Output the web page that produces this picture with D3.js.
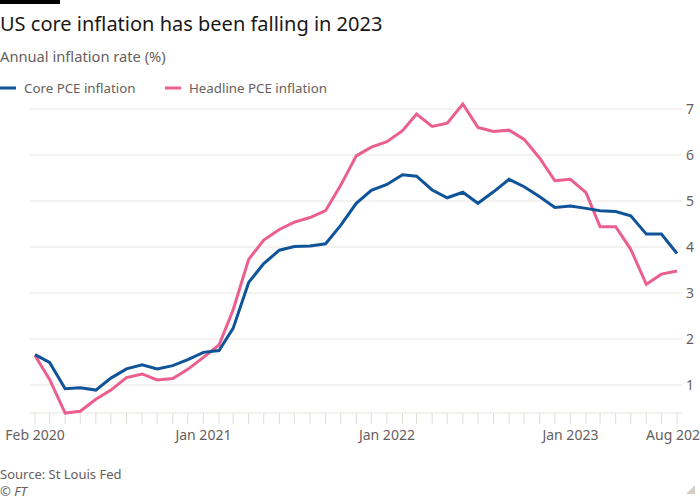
<!DOCTYPE html>
<html>
<head>
<meta charset="utf-8">
<script src="https://cdn.jsdelivr.net/npm/d3@7"></script>
<style>
  html, body { margin: 0; padding: 0; background: #ffffff; }
  svg { display: block; }
  text { font-family: "Noto Sans", "Open Sans", sans-serif; }
</style>
</head>
<body>
<svg id="chart" width="700" height="500"></svg>
<script>
// ---- data ----
const startMonth = "2020-02";
const coreValues = [1.66, 1.49, 0.92, 0.94, 0.89, 1.15, 1.35, 1.44, 1.35, 1.42, 1.55, 1.71,
  1.75, 2.23, 3.23, 3.64, 3.93, 4.01, 4.02, 4.07, 4.47, 4.95, 5.23, 5.36,
  5.57, 5.54, 5.24, 5.07, 5.19, 4.95, 5.20, 5.47, 5.31, 5.09, 4.86, 4.89,
  4.84, 4.79, 4.77, 4.68, 4.28, 4.28, 3.86];
const headlineValues = [1.64, 1.12, 0.39, 0.43, 0.69, 0.89, 1.16, 1.24, 1.11, 1.14, 1.34, 1.60,
  1.87, 2.63, 3.73, 4.15, 4.38, 4.54, 4.64, 4.79, 5.34, 5.98, 6.17, 6.29,
  6.53, 6.89, 6.62, 6.69, 7.11, 6.60, 6.51, 6.54, 6.34, 5.93, 5.44, 5.47,
  5.18, 4.44, 4.44, 3.95, 3.19, 3.41, 3.48];
const seriesNames = ["Core PCE inflation", "Headline PCE inflation"];
const yTicks = [1, 2, 3, 4, 5, 6, 7];
const xTickLabels = [
  { date: "2020-02", label: "Feb 2020" },
  { date: "2021-01", label: "Jan 2021" },
  { date: "2022-01", label: "Jan 2022" },
  { date: "2023-01", label: "Jan 2023" },
  { date: "2023-08", label: "Aug 2023" }
];

const parse = d3.timeParse("%Y-%m");
const start = parse(startMonth);
const dates = coreValues.map((_, i) => d3.timeMonth.offset(start, i));
const coreData = dates.map((d, i) => ({ date: d, value: coreValues[i] }));
const headData = dates.map((d, i) => ({ date: d, value: headlineValues[i] }));

const colors = { core: "#0f5499", head: "#eb5f8d" };

const svg = d3.select("#chart");

// Top black bar
svg.append("rect").attr("x", 0).attr("y", 0).attr("width", 60).attr("height", 4).attr("fill", "#000");

// Title
svg.append("text").attr("x", 0).attr("y", 31)
  .attr("font-size", 20).attr("fill", "#1a1817")
  .text("US core inflation has been falling in 2023");
svg.append("text").attr("x", 0).attr("y", 62)
  .attr("font-size", 14.7).attr("fill", "#66605c")
  .text("Annual inflation rate (%)");

// Legend
const legend = [
  { name: seriesNames[0], color: colors.core, x: 0 },
  { name: seriesNames[1], color: colors.head, x: 165 }
];
legend.forEach(l => {
  svg.append("line").attr("x1", l.x).attr("x2", l.x + 16).attr("y1", 88).attr("y2", 88)
    .attr("stroke", l.color).attr("stroke-width", 3);
  svg.append("text").attr("x", l.x + 24).attr("y", 93)
    .attr("font-size", 13.3).attr("fill", "#66605c").text(l.name);
});

// Scales
const x = d3.scaleTime().domain([dates[0], dates[dates.length - 1]]).range([35, 677]);
const y = d3.scaleLinear().domain([1, 7]).range([385, 109]);
const yBottom = 413;

// Gridlines
svg.append("g").selectAll("line").data(yTicks).join("line")
  .attr("x1", 30).attr("x2", 682)
  .attr("y1", d => y(d)).attr("y2", d => y(d))
  .attr("stroke", "#e9e4df").attr("stroke-width", 1);

// Y labels
svg.append("g").selectAll("text").data(yTicks).join("text")
  .attr("x", 686).attr("y", d => y(d) + 5)
  .attr("font-size", 14).attr("fill", "#66605c")
  .text(d => d);

// X axis baseline and ticks
svg.append("line").attr("x1", 30).attr("x2", 682).attr("y1", yBottom).attr("y2", yBottom)
  .attr("stroke", "#e9e4df").attr("stroke-width", 1);
svg.append("g").selectAll("line").data(dates).join("line")
  .attr("x1", d => x(d)).attr("x2", d => x(d))
  .attr("y1", yBottom).attr("y2", yBottom + 11)
  .attr("stroke", "#e2dcd6").attr("stroke-width", 1);

svg.append("g").selectAll("text").data(xTickLabels).join("text")
  .attr("x", d => x(parse(d.date))).attr("y", 440)
  .attr("text-anchor", "middle")
  .attr("font-size", 14).attr("fill", "#66605c")
  .text(d => d.label);

// Lines
const line = d3.line().x(d => x(d.date)).y(d => y(d.value));
svg.append("path").datum(headData).attr("d", line)
  .attr("fill", "none").attr("stroke", colors.head).attr("stroke-width", 3)
  .attr("stroke-linejoin", "miter");
svg.append("path").datum(coreData).attr("d", line)
  .attr("fill", "none").attr("stroke", colors.core).attr("stroke-width", 3)
  .attr("stroke-linejoin", "miter");

// Source
svg.append("text").attr("x", 0).attr("y", 479)
  .attr("font-size", 13).attr("fill", "#66605c").text("Source: St Louis Fed");
svg.append("text").attr("x", 0).attr("y", 496)
  .attr("font-size", 13).attr("font-style", "italic").attr("fill", "#66605c").text("© FT");

// corner triangle
svg.append("path").attr("d", "M695,485 L695,494 L686,494 Z").attr("fill", "#d6cdc4");
</script>
</body>
</html>
